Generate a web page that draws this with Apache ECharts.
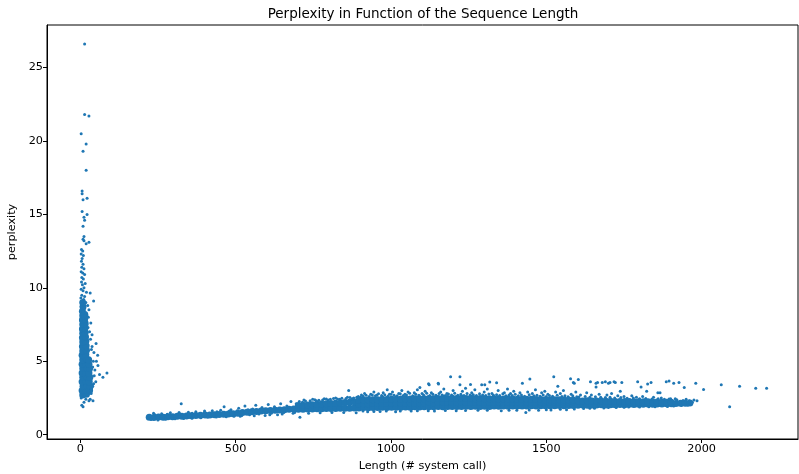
<!DOCTYPE html>
<html>
<head>
<meta charset="utf-8">
<script src="https://cdn.jsdelivr.net/npm/echarts@6/dist/echarts.min.js"></script>
<style>html,body{margin:0;padding:0;background:#fff}#c{width:799px;height:474px}</style>
</head>
<body>
<div id="c"></div>
<script>
const titleText = 'Perplexity in Function of the Sequence Length';
const xName = 'Length (# system call)';
const yName = 'perplexity';
const xTicks = [0, 500, 1000, 1500, 2000];
const yTicks = [0, 5, 10, 15, 20, 25];

// dense core of the left spike (short sequences)
const spikeCore = [[8,2.7],[20,2.75],[6,3.0],[18,3.05],[30,3.0],[9,3.3],[21,3.35],[32,3.3],[6,3.6],[18,3.65],[29,3.6],[8,3.9],[20,3.95],[31,3.9],[6,4.2],[18,4.25],[28,4.2],[8,4.5],[20,4.55],[30,4.5],[6,4.8],[18,4.85],[28,4.8],[8,5.1],[20,5.15],[27,5.1],[6,5.4],[18,5.45],[8,5.7],[20,5.75],[7,6.0],[19,6.05],[8,6.3],[18,6.35],[7,6.6],[17,6.65],[8,6.9],[16,6.95],
[7,7.2],[15,7.25],[8,7.5],[16,7.55],[7,7.8],[14,7.85],[8,8.1],[15,8.15],[7,8.4],[9,8.7],[8,9.0]];

// sparse points of the left spike
const spikePoints = [[14,26.6],[14,21.8],[28,21.7],[3,20.5],[19,19.8],[9,19.3],[19,18.0],[6,16.6],[6,16.4],[22,16.1],[9,16.0],[6,15.2],[22,15.0],[12,14.8],[14,14.6],[9,14.2],[12,13.5],[9,13.3],[12,13.2],[19,13.0],[28,13.1],
[4,12.6],[8,12.5],[3,12.3],[10,12.2],[6,12.0],[4,11.8],[9,11.6],[5,11.4],[12,11.3],[3,11.1],[8,11.0],[14,10.9],[5,10.7],[10,10.6],[4,10.4],[16,10.3],[7,10.2],[12,10.0],[3,9.9],[9,9.8],[20,9.7],[32,9.65],[5,9.5],[14,9.4],[2,9.3],[11,9.2],[43,9.1],[18,9.0],[6,8.9],[24,8.8],[3,8.7],[13,8.6],[28,8.5],[8,8.4],[19,8.3],[4,8.2],[15,8.1],[26,8.0],[10,7.9],[2,7.8],[21,7.7],[34,7.6],[6,7.5],[16,7.4],[25,7.3],[3,7.2],[12,7.1],[30,7.0],[20,6.9],[38,6.8],
[86,4.2],[73,3.9],[56,5.4],[51,6.2],[57,4.7],[43,3.46],[41,2.3],[32,2.4],[9,1.9],[5,2.0],[45,4.0],[50,3.6],[40,3.3],[36,5.8],[42,5.0],[38,6.0],[47,4.4],[62,4.1],[35,2.8],[28,2.3],[12,2.2],[18,2.4],[3,2.5],[40,4.6],[33,6.5],[44,5.6],[36,3.1],[52,5.0]];

// dense core of the main band
const bandCore = [[222,1.18],[237,1.17],[252,1.2],[267,1.19],[282,1.22],[297,1.22],[312,1.25],[327,1.25],[342,1.27],[357,1.28],[372,1.3],[387,1.31],[402,1.33],[417,1.34],[432,1.36],[447,1.37],[462,1.39],[477,1.4],[492,1.42],[507,1.45],[522,1.5],[537,1.52],[552,1.55],[567,1.57],[582,1.6],[597,1.62],[612,1.64],[627,1.66],[642,1.68],[657,1.7],[672,1.72],[687,1.75],
[702,1.72],[702,1.98],[717,1.73],[717,2.0],[732,1.74],[732,2.02],[747,1.75],[747,2.04],[762,1.76],[762,2.06],[777,1.76],[777,2.08],[792,1.77],[792,2.1],[807,1.78],[807,2.12],[822,1.78],[822,2.14],[837,1.79],[837,2.16],[852,1.8],[852,2.18],[867,1.8],[867,2.2],[882,1.81],[882,2.24],
[897,1.82],[897,2.07],[897,2.32],[912,1.84],[912,2.1],[912,2.36],[927,1.83],[927,2.09],[927,2.35],[942,1.85],[942,2.12],[942,2.38],[957,1.84],[957,2.11],[957,2.37],[972,1.86],[972,2.13],[972,2.4],[987,1.85],[987,2.12],[987,2.39],[1002,1.86],[1002,2.13],[1002,2.41],[1017,1.87],[1017,2.14],[1017,2.4],[1032,1.86],[1032,2.15],[1032,2.42],[1047,1.88],[1047,2.14],[1047,2.43],[1062,1.87],[1062,2.16],[1062,2.42],[1077,1.89],[1077,2.15],[1077,2.44],[1092,1.88],[1092,2.17],[1092,2.45],[1107,1.9],[1107,2.16],[1107,2.44],[1122,1.89],[1122,2.18],[1122,2.46],[1137,1.9],[1137,2.17],[1137,2.45],[1152,1.91],[1152,2.18],[1152,2.46],[1167,1.9],[1167,2.19],[1167,2.47],[1182,1.92],[1182,2.18],[1182,2.46],[1197,1.91],[1197,2.19],[1197,2.47],[1212,1.92],[1212,2.18],[1212,2.46],[1227,1.91],[1227,2.2],[1227,2.47],[1242,1.93],[1242,2.19],[1242,2.46],[1257,1.92],[1257,2.2],[1257,2.47],[1272,1.93],[1272,2.19],[1272,2.45],[1287,1.92],[1287,2.2],[1287,2.46],[1302,1.93],[1302,2.19],[1302,2.45],[1317,1.92],[1317,2.2],[1317,2.44],[1332,1.94],[1332,2.19],[1332,2.44],[1347,1.93],[1347,2.2],[1347,2.43],[1362,1.94],[1362,2.19],[1362,2.43],[1377,1.93],[1377,2.2],[1377,2.42],[1392,1.95],[1392,2.19],[1392,2.42],[1407,1.94],[1407,2.2],[1407,2.41],[1422,1.95],[1422,2.2],[1422,2.41],[1437,1.94],[1437,2.21],[1437,2.4],[1452,1.96],[1452,2.2],[1452,2.4],[1467,1.95],[1467,2.21],[1467,2.39],[1482,1.96],[1482,2.2],[1482,2.39],[1497,1.96],[1497,2.21],[1497,2.38],[1512,1.97],[1512,2.21],[1512,2.38],[1527,1.96],[1527,2.22],[1527,2.37],[1542,1.98],[1542,2.21],[1542,2.37],[1557,1.97],[1557,2.22],[1557,2.36],[1572,1.99],[1572,2.22],[1572,2.36],[1587,1.98],[1587,2.23],[1587,2.35],
[1602,2.0],[1602,2.3],[1617,2.01],[1617,2.29],[1632,2.0],[1632,2.3],[1647,2.02],[1647,2.28],[1662,2.01],[1662,2.29],[1677,2.03],[1677,2.28],[1692,2.02],[1692,2.27],[1707,2.04],[1707,2.27],[1722,2.03],[1722,2.26],[1737,2.05],[1737,2.26],[1752,2.04],[1752,2.25],[1767,2.06],[1767,2.25],[1782,2.05],[1782,2.24],[1797,2.07],[1797,2.24],[1812,2.06],[1812,2.23],[1827,2.08],[1827,2.23],[1842,2.07],[1842,2.22],[1857,2.09],[1857,2.22],[1872,2.08],[1872,2.21],[1887,2.1],[1887,2.21],[1902,2.1],[1902,2.2],[1917,2.12],[1932,2.13],[1947,2.14],[1962,2.16]];

// fringe and outlying points of the main band
const bandPoints = [[228,1.02],[236,1.45],[250,1.0],[262,1.42],[275,1.05],[290,1.48],[305,1.08],[318,1.5],[325,2.1],[333,1.1],[348,1.52],[360,1.12],[372,1.55],[388,1.15],[400,1.6],[410,1.18],[425,1.62],[438,1.2],[452,1.66],[463,1.9],[470,1.22],[485,1.7],[495,1.25],
[240,1.35],[280,1.38],[320,1.42],[360,1.45],[400,1.5],[440,1.55],[480,1.6],
[510,1.8],[520,1.3],[530,1.95],[545,1.35],[555,1.75],[565,2.0],[575,1.4],[585,1.85],[595,1.3],[605,2.05],[615,1.45],[625,1.9],[635,1.35],[645,2.1],[655,1.5],[665,1.95],[678,2.25],[685,1.45],[695,2.1],[707,1.18],[715,2.2],
[505,1.62],[515,1.25],[540,1.7],[560,1.28],[590,1.72],[610,1.35],[630,1.78],[650,1.4],[670,1.85],[690,1.5],
[720,2.35],[735,1.45],[748,2.4],[760,2.3],[772,1.48],[785,2.45],[798,2.35],[810,1.5],[822,2.5],[835,2.4],[848,1.5],[860,2.55],[864,3.0],[875,2.45],[888,1.48],[895,2.6],
[705,2.25],[725,2.28],[740,2.3],[755,2.38],[768,2.34],[780,2.36],[792,2.42],[805,2.4],[815,2.46],[828,2.42],[842,2.48],[855,2.46],[868,2.52],[880,2.5],[890,2.55],
[905,2.7],[915,2.8],[925,1.55],[935,2.75],[945,2.9],[955,2.7],[965,1.58],[975,2.85],[988,3.05],[995,2.75],[1005,2.9],[1015,1.55],[1025,2.8],[1035,3.0],[1045,2.75],[1055,2.9],[1065,1.6],[1075,2.85],[1085,3.05],[1093,3.2],[1100,2.8],[1110,2.95],[1121,3.46],[1123,3.4],[1130,2.85],[1140,1.6],[1152,3.5],[1153,3.45],[1160,2.9],[1170,3.1],[1180,2.8],[1192,3.94],[1200,3.0],[1210,1.62],[1222,3.94],[1222,3.4],[1230,2.95],[1240,3.15],[1256,3.42],[1260,2.85],[1270,3.05],[1280,1.65],[1292,3.4],[1300,2.9],[1302,3.4],[1310,3.1],[1318,3.58],[1325,2.8],[1340,3.53],[1345,3.0],[1355,1.62],[1365,2.85],[1375,3.1],[1385,2.8],[1395,2.95],[1405,1.65],[1415,2.85],[1423,3.5],[1434,1.5],[1440,2.9],[1447,3.78],[1455,2.8],[1465,3.05],[1475,1.65],[1485,2.85],[1495,2.95],[1505,2.75],[1515,1.68],[1524,3.94],[1530,2.9],[1537,3.3],[1545,2.8],[1555,3.0],[1565,1.7],[1578,3.8],[1580,2.75],[1587,3.55],[1590,3.5],[1595,2.9],[1603,3.76],
[902,2.55],[910,2.62],[920,2.68],[930,2.6],[940,2.7],[950,2.64],[960,2.78],[970,2.66],[980,2.72],[990,2.62],[1000,2.75],[1010,2.68],[1020,2.64],[1030,2.78],[1040,2.66],[1050,2.7],[1060,2.82],[1070,2.65],[1080,2.74],[1090,2.68],[1105,2.7],[1115,2.82],[1125,2.66],[1135,2.74],[1145,2.68],[1155,2.8],[1165,2.7],[1175,2.66],[1185,2.76],[1195,2.7],[1205,2.82],[1215,2.68],[1225,2.74],[1235,2.66],[1245,2.8],[1255,2.7],[1265,2.72],[1275,2.66],[1285,2.78],[1295,2.7],[1305,2.66],[1315,2.76],[1330,2.68],[1340,2.72],[1350,2.66],[1360,2.78],[1370,2.64],[1380,2.7],[1390,2.66],[1400,2.74],[1410,2.64],[1420,2.7],[1430,2.62],[1445,2.72],[1460,2.64],[1470,2.68],[1480,2.62],[1490,2.7],[1500,2.6],[1510,2.66],[1520,2.62],[1535,2.68],[1550,2.6],[1560,2.64],[1570,2.58],[1585,2.64],[1598,2.58],
[910,1.6],[945,1.57],[985,1.6],[1030,1.6],[1085,1.62],[1120,1.63],[1175,1.64],[1240,1.64],[1310,1.66],[1380,1.66],[1445,1.68],[1500,1.7],[1545,1.72],[1590,1.74],
[1610,2.7],[1620,1.78],[1630,2.85],[1642,3.6],[1645,2.7],[1655,1.8],[1660,3.5],[1660,3.25],[1665,3.55],[1670,2.75],[1680,3.55],[1685,1.82],[1690,3.6],[1695,2.7],[1700,3.5],[1705,3.55],[1710,2.8],[1718,3.6],[1722,3.55],[1725,1.85],[1730,2.65],[1738,2.96],[1743,3.55],[1750,2.6],[1765,1.88],[1775,2.65],[1794,3.6],[1790,2.55],[1805,3.25],[1810,2.6],[1823,2.95],[1826,3.45],[1830,1.9],[1837,3.55],[1845,2.55],[1859,2.85],[1866,2.85],[1870,2.5],[1886,3.6],[1890,1.92],[1895,3.65],[1900,2.45],[1910,3.5],[1915,2.45],[1927,3.55],[1935,1.98],[1944,3.2],[1950,2.4],[1960,2.3],[1970,2.2],[1975,2.35],[1981,3.5],[1985,2.3],[2006,3.08],[2063,3.4],[2090,1.9],[2122,3.3],[2174,3.15],[2209,3.15],
[1605,2.56],[1625,2.6],[1640,2.55],[1658,2.58],[1675,2.55],[1690,2.52],[1705,2.55],[1720,2.5],[1740,2.52],[1760,2.48],[1780,2.5],[1800,2.45],[1820,2.46],[1840,2.42],[1860,2.44],[1880,2.4],[1895,2.42],[1920,2.38],[1940,2.32],
[1640,1.8],[1700,1.84],[1750,1.86],[1800,1.88],[1850,1.9],[1910,1.95],[1955,2.0]];

const FONT = 'DejaVu Sans';
const BLUE = '#1f77b4';
const chart = echarts.init(document.getElementById('c'), null, {renderer: 'canvas'});
const plain = v => String(v);
chart.setOption({
  animation: false,
  backgroundColor: '#fff',
  graphic: [{
    type: 'text', x: 423, y: 14.5,
    style: {text: titleText, textAlign: 'center', textVerticalAlign: 'middle', fontFamily: FONT, fontSize: 13.5, fill: '#000'}
  }],
  grid: {left: 47, right: 1, top: 25, bottom: 35, show: true, borderColor: '#000', borderWidth: 1, backgroundColor: 'transparent', containLabel: false, outerBoundsMode: 'none'},
  xAxis: {
    type: 'value', min: -107, max: 2310,
    name: xName, nameLocation: 'middle', nameGap: 22,
    nameTextStyle: {fontFamily: FONT, fontSize: 11.25, color: '#000'},
    splitLine: {show: false},
    axisLine: {show: true, onZero: false, lineStyle: {color: '#000', width: 1}},
    axisTick: {show: true, length: 4, customValues: xTicks, lineStyle: {color: '#000'}},
    axisLabel: {customValues: xTicks, formatter: plain, fontFamily: FONT, fontSize: 11.25, color: '#000', margin: 5}
  },
  yAxis: {
    type: 'value', min: -0.3, max: 27.9,
    name: yName, nameLocation: 'middle', nameGap: 27,
    nameTextStyle: {fontFamily: FONT, fontSize: 11.25, color: '#000'},
    splitLine: {show: false},
    axisLine: {show: true, onZero: false, lineStyle: {color: '#000', width: 1}},
    axisTick: {show: true, length: 4, customValues: yTicks, lineStyle: {color: '#000'}},
    axisLabel: {customValues: yTicks, formatter: plain, fontFamily: FONT, fontSize: 11.25, color: '#000', margin: 4}
  },
  series: [
    {type: 'scatter', data: bandCore, symbol: 'circle', symbolSize: 7, itemStyle: {color: BLUE, opacity: 1}, silent: true},
    {type: 'scatter', data: spikeCore, symbol: 'circle', symbolSize: 7, itemStyle: {color: BLUE, opacity: 1}, silent: true},
    {type: 'scatter', data: bandPoints, symbol: 'circle', symbolSize: 3, itemStyle: {color: BLUE, opacity: 1}, silent: true},
    {type: 'scatter', data: spikePoints, symbol: 'circle', symbolSize: 3, itemStyle: {color: BLUE, opacity: 1}, silent: true}
  ]
});
</script>
</body>
</html>
